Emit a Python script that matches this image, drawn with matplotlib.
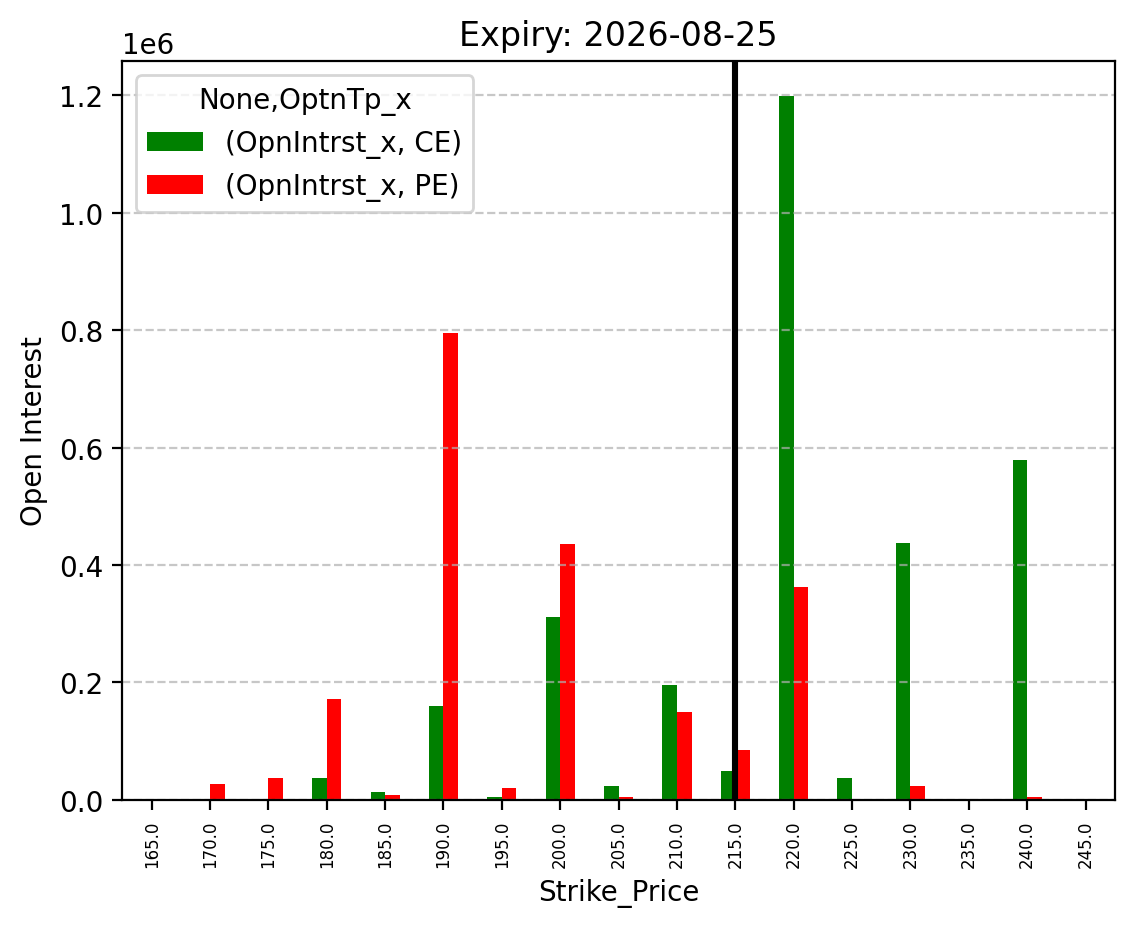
import matplotlib
matplotlib.use("Agg")
import matplotlib.pyplot as plt
import pandas as pd

strikes = [165.0, 170.0, 175.0, 180.0, 185.0, 190.0, 195.0, 200.0, 205.0,
           210.0, 215.0, 220.0, 225.0, 230.0, 235.0, 240.0, 245.0]
ce_oi = [0, 2000, 0, 37500, 14000, 160000, 5000, 312000, 24000,
         196000, 50000, 1198000, 37500, 438000, 0, 578000, 0]
pe_oi = [0, 27000, 37500, 172000, 8500, 795000, 20000, 435000, 5000,
         150000, 85000, 363000, 0, 24000, 0, 5000, 0]
spot_strike = 215.0
expiry = "2026-08-25"

cols = pd.MultiIndex.from_tuples([("OpnIntrst_x", "CE"), ("OpnIntrst_x", "PE")],
                                 names=[None, "OptnTp_x"])
df = pd.DataFrame(list(zip(ce_oi, pe_oi)), index=pd.Index(strikes, name="Strike_Price"),
                  columns=cols)

fig, ax = plt.subplots(figsize=(5.67, 4.64), dpi=200)
df.plot(kind="bar", color=["green", "red"], ax=ax)

# vertical line at the spot strike
ax.axvline(strikes.index(spot_strike), color="black", linewidth=2.2)

ax.set_title(f"Expiry: {expiry}")
ax.set_xlabel("Strike_Price")
ax.set_ylabel("Open Interest")
ax.tick_params(axis="x", labelsize=6, labelrotation=90)
ax.grid(axis="y", linestyle="--", alpha=0.7)
ax.legend(title="None,OptnTp_x", loc="upper left")

fig.subplots_adjust(left=0.108, right=0.983, top=0.933, bottom=0.137)
fig.savefig("out.png", dpi=200)
